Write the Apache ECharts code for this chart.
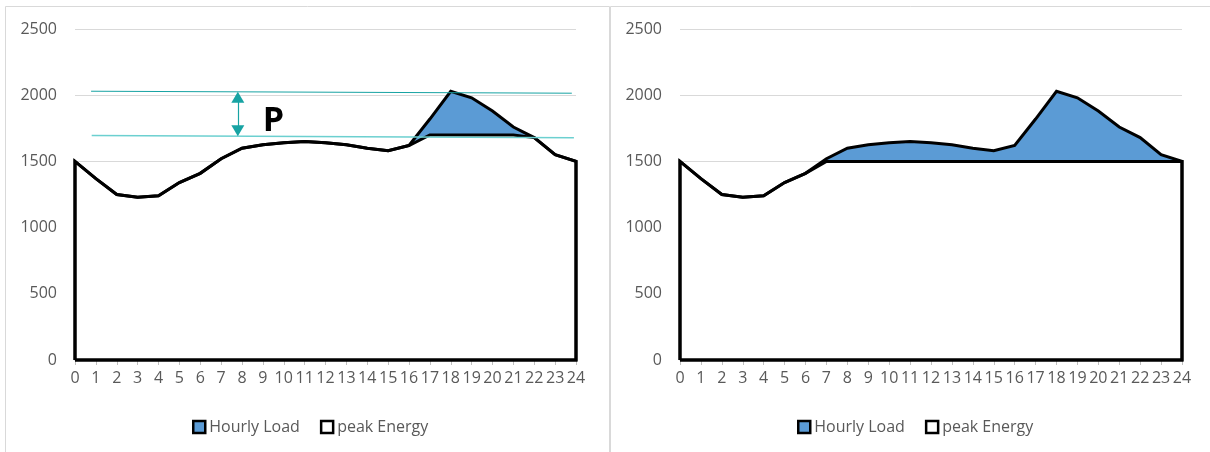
<!DOCTYPE html>
<html>
<head>
<meta charset="utf-8">
<script src="https://cdn.jsdelivr.net/npm/echarts@6/dist/echarts.min.js"></script>
<style>
  html, body { margin: 0; padding: 0; background: #ffffff; }
  #chart { width: 1210px; height: 452px; }
</style>
</head>
<body>
<div id="chart"></div>
<script>
// Hour of day (x ticks) and value ticks
const hours = [0, 1, 2, 3, 4, 5, 6, 7, 8, 9, 10, 11, 12, 13, 14, 15, 16, 17, 18, 19, 20, 21, 22, 23, 24];
const loadTicks = [0, 500, 1000, 1500, 2000, 2500];

// Hourly load profile (same in both panels)
const hourlyLoad = [1500, 1370, 1250, 1230, 1240, 1340, 1410, 1520, 1600, 1625, 1640, 1650,
                    1640, 1625, 1600, 1580, 1620, 1820, 2030, 1980, 1880, 1760, 1680, 1550, 1500];

// Energy served below the cap: left panel capped at 1700, right panel at 1500
const peakEnergyLeft = [1500, 1370, 1250, 1230, 1240, 1340, 1410, 1520, 1600, 1625, 1640, 1650,
                        1640, 1625, 1600, 1580, 1620, 1700, 1700, 1700, 1700, 1700, 1680, 1550, 1500];
const peakEnergyRight = [1500, 1370, 1250, 1230, 1240, 1340, 1410, 1500, 1500, 1500, 1500, 1500,
                         1500, 1500, 1500, 1500, 1500, 1500, 1500, 1500, 1500, 1500, 1500, 1500, 1500];

// Peak band annotation (data coordinates: [hour, load]); arrow ends are the arrowhead centres
const bandTop = [[0.77, 2030], [23.8, 2015]];
const bandBottom = [[0.8, 1695], [23.9, 1678]];
const bandArrow = [[7.8, 1984], [7.8, 1732]];
const bandLabelAt = [9.5, 1805];

const FONT = 'Open Sans';
const LABEL_GREY = '#595959';
const BLUE = '#5B9BD5';

// Closed outline: down the left edge, along the profile, down the right edge, back along the base
function outline(values) {
  const pts = [[hours[0], 0]];
  values.forEach((v, i) => pts.push([hours[i], v]));
  pts.push([hours[hours.length - 1], 0]);
  pts.push([hours[0], 0]);
  return pts;
}

function xAxis(gridIndex) {
  return {
    type: 'value', gridIndex: gridIndex,
    min: hours[0], max: hours[hours.length - 1], interval: 1,
    axisLine: { show: true, lineStyle: { color: '#BFBFBF', width: 1 } },
    axisTick: { show: true, length: 5, lineStyle: { color: '#BFBFBF' } },
    axisLabel: { color: LABEL_GREY, fontSize: 16, fontFamily: FONT, margin: 10,
                 formatter: v => String(v) },
    splitLine: { show: false }
  };
}

function yAxis(gridIndex) {
  return {
    type: 'value', gridIndex: gridIndex,
    min: loadTicks[0], max: loadTicks[loadTicks.length - 1], interval: loadTicks[1] - loadTicks[0],
    axisLine: { show: false }, axisTick: { show: false },
    axisLabel: { color: LABEL_GREY, fontSize: 16, fontFamily: FONT, margin: 18,
                 formatter: v => String(v) },
    splitLine: { show: true, lineStyle: { color: '#D9D9D9', width: 1 } }
  };
}

function areaSeries(name, values, gridIndex, fill, extra) {
  return Object.assign({
    name: name, type: 'line',
    xAxisIndex: gridIndex, yAxisIndex: gridIndex,
    data: outline(values),
    symbol: 'none', showSymbol: false, clip: false,
    lineStyle: { color: '#000000', width: 3, join: 'miter' },
    itemStyle: { color: fill },
    areaStyle: { color: fill, opacity: 1 },
    emphasis: { disabled: true },
    silent: true
  }, extra || {});
}

function legend(left) {
  return {
    left: left, top: 414, orient: 'horizontal',
    icon: 'rect', itemWidth: 12, itemHeight: 12, itemGap: 20,
    selectedMode: false,
    textStyle: { color: LABEL_GREY, fontSize: 16, fontFamily: FONT, padding: [0, 0, 0, -1] },
    data: [
      { name: 'Hourly Load', itemStyle: { color: BLUE, borderColor: '#000', borderWidth: 2.5 } },
      { name: 'peak Energy', itemStyle: { color: '#ffffff', borderColor: '#000', borderWidth: 2.5 } }
    ]
  };
}

const TEAL = '#17A3A3';

const bandMarks = {
  markLine: {
    silent: true, animation: false,
    symbol: 'none',
    label: { show: false },
    emphasis: { disabled: true },
    data: [
      [{ coord: bandTop[0], lineStyle: { color: TEAL, width: 1, type: 'solid' } }, { coord: bandTop[1] }],
      [{ coord: bandBottom[0], lineStyle: { color: '#6CD0D0', width: 1.5, type: 'solid' } }, { coord: bandBottom[1] }],
      [{ coord: bandArrow[0], symbol: 'triangle', symbolSize: [13, 11], lineStyle: { color: TEAL, width: 1.2, type: 'solid' } },
       { coord: bandArrow[1], symbol: 'triangle', symbolSize: [13, 11] }]
    ]
  },
  markPoint: {
    silent: true, animation: false,
    data: [{
      coord: bandLabelAt, symbol: 'rect', symbolSize: 1,
      itemStyle: { color: 'rgba(0,0,0,0)' },
      label: { show: true, position: 'inside', formatter: 'P', color: '#000000',
               fontSize: 34, fontWeight: 'bold', fontFamily: FONT }
    }]
  }
};

const chart = echarts.init(document.getElementById('chart'), null, { renderer: 'canvas' });
chart.setOption({
  animation: false,
  backgroundColor: '#ffffff',
  textStyle: { fontFamily: FONT },
  graphic: [
    { type: 'rect', silent: true, z: -10, shape: { x: 5.5, y: 6.5, width: 604, height: 480 },
      style: { fill: 'none', stroke: '#D9D9D9', lineWidth: 1 } },
    { type: 'rect', silent: true, z: -10, shape: { x: 610.5, y: 6.5, width: 640, height: 480 },
      style: { fill: 'none', stroke: '#D9D9D9', lineWidth: 1 } }
  ],
  grid: [
    { left: 75, top: 29, width: 501, height: 331 },
    { left: 680, top: 29, width: 502, height: 331 }
  ],
  legend: [legend(187), legend(792)],
  xAxis: [xAxis(0), xAxis(1)],
  yAxis: [yAxis(0), yAxis(1)],
  series: [
    areaSeries('Hourly Load', hourlyLoad, 0, BLUE),
    areaSeries('peak Energy', peakEnergyLeft, 0, '#ffffff', bandMarks),
    areaSeries('Hourly Load', hourlyLoad, 1, BLUE),
    areaSeries('peak Energy', peakEnergyRight, 1, '#ffffff')
  ]
});
</script>
</body>
</html>
